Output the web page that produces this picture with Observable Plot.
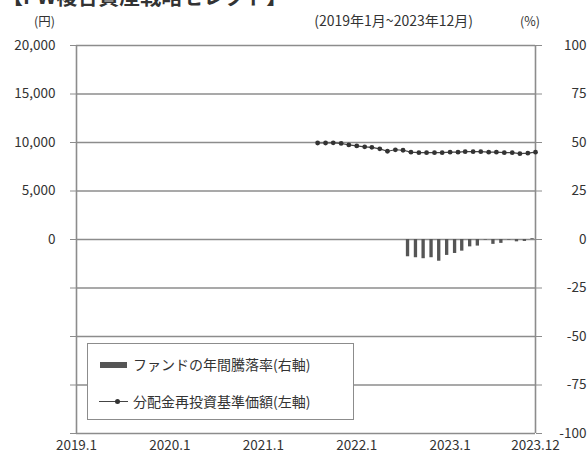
<!DOCTYPE html>
<html><head><meta charset="utf-8">
<script src="https://cdn.jsdelivr.net/npm/d3@7"></script>
<script src="https://cdn.jsdelivr.net/npm/@observablehq/plot@0.6"></script>
<style>
body{margin:0;background:#fff;}
#wrap{position:relative;width:587px;height:462px;overflow:hidden;font-family:"Noto Sans CJK JP",sans-serif;color:#333;}
#wrap svg{position:absolute;left:0;top:0;}
.t{position:absolute;white-space:nowrap;}
</style></head><body>
<div id="wrap"></div>
<script>
// Data
const navMonths = ["2021-08","2021-09","2021-10","2021-11","2021-12","2022-01","2022-02","2022-03","2022-04","2022-05","2022-06","2022-07","2022-08","2022-09","2022-10","2022-11","2022-12","2023-01","2023-02","2023-03","2023-04","2023-05","2023-06","2023-07","2023-08","2023-09","2023-10","2023-11","2023-12"];
const navValues = [9950,9950,9970,9900,9750,9650,9550,9500,9350,9100,9250,9200,9000,8950,8950,8950,8950,9000,9000,9050,9050,9050,9000,9000,8950,8950,8850,8900,9000];
const retMonths = ["2022-08","2022-09","2022-10","2022-11","2022-12","2023-01","2023-02","2023-03","2023-04","2023-05","2023-06","2023-07","2023-08","2023-09","2023-10","2023-11","2023-12"];
const retValues = [-8.9,-9.4,-9.9,-9.4,-11.2,-8.2,-7.2,-6.0,-3.8,-3.4,-0.3,-2.5,-2.0,-0.3,-1.2,-1.0,0.4];
const yTicks = [-100,-75,-50,-25,0,25,50,75,100];
const xTickDates = ["2019-01","2020-01","2021-01","2022-01","2023-01","2023-12"];
const xTickLabels = ["2019.1","2020.1","2021.1","2022.1","2023.1","2023.12"];

const parse = d3.utcParse("%Y-%m");
const nav = navMonths.map((m,i)=>({date:parse(m), v:navValues[i]/200}));
const ret = retMonths.map((m,i)=>({date:parse(m), v:retValues[i]}));
const xTicks = xTickDates.map(parse);
const grid = "#8c8c8c";

const chart = Plot.plot({
  width:587, height:462,
  marginLeft:76, marginRight:52, marginTop:45, marginBottom:29,
  style:{fontFamily:"'Noto Sans CJK JP',sans-serif", fontSize:"13.5px", color:"#333", background:"transparent"},
  x:{type:"utc", domain:[parse("2019-01"), parse("2023-12")], label:null},
  y:{domain:[-100,100], label:null},
  marks:[
    Plot.ruleY(yTicks, {stroke:grid, strokeWidth:1.6}),
    Plot.ruleX([parse("2019-01"), parse("2023-12")], {stroke:grid, strokeWidth:1.6}),
    Plot.rectY(ret, {x1:d=>d3.utcDay.offset(d.date,-18), x2:d=>d3.utcDay.offset(d.date,-5), y1:0, y2:"v", fill:"#555"}),
    Plot.line(nav, {x:"date", y:"v", stroke:"#444", strokeWidth:1.2}),
    Plot.dot(nav, {x:"date", y:"v", r:2.4, fill:"#333", stroke:"none"}),
    Plot.axisY({anchor:"left", label:null, ticks:yTicks, tickSize:6, tickPadding:15, stroke:grid, fill:"#333",
      tickFormat:d=> d>=0 ? d3.format(",")(d*200) : ""}),
    Plot.axisY({anchor:"right", label:null, ticks:yTicks, tickSize:6, tickPadding:45, textAnchor:"end", stroke:grid, fill:"#333",
      tickFormat:d=>String(d)}),
    Plot.axisX({label:null, ticks:xTicks, tickSize:0, tickPadding:7, fill:"#333",
      tickFormat:(d,i)=>xTickLabels[i]})
  ]
});
const wrap = document.getElementById("wrap");
wrap.appendChild(chart);

function addText(txt, css){const d=document.createElement("div");d.className="t";d.textContent=txt;Object.assign(d.style,css);wrap.appendChild(d);return d;}
addText("【PW複合資産戦略セレクト】",{left:"2px",top:"-20px",fontSize:"21px",fontWeight:"bold",color:"#333"});
addText("(円)",{left:"34px",top:"11px",fontSize:"12.5px"});
addText("(2019年1月~2023年12月)",{right:"114px",top:"10px",fontSize:"14px"});
addText("(%)",{left:"520px",top:"11px",fontSize:"12.5px"});

// Legend
const lg = document.createElement("div");
Object.assign(lg.style,{position:"absolute",left:"87px",top:"343px",width:"267px",height:"77px",background:"#fff",border:"1px solid "+grid,boxSizing:"border-box"});
wrap.appendChild(lg);
const sw = document.createElement("div");
Object.assign(sw.style,{position:"absolute",left:"12px",top:"18px",width:"27px",height:"6px",background:"#555"});
lg.appendChild(sw);
const ln = document.createElement("div");
Object.assign(ln.style,{position:"absolute",left:"11px",top:"57px",width:"29px",height:"1px",background:"#444"});
lg.appendChild(ln);
const dt = document.createElement("div");
Object.assign(dt.style,{position:"absolute",left:"27px",top:"55px",width:"5px",height:"5px",borderRadius:"50%",background:"#333"});
lg.appendChild(dt);
const l1 = document.createElement("div"); l1.className="t"; l1.textContent="ファンドの年間騰落率(右軸)";
Object.assign(l1.style,{left:"45px",top:"10px",fontSize:"14px"}); lg.appendChild(l1);
const l2 = document.createElement("div"); l2.className="t"; l2.textContent="分配金再投資基準価額(左軸)";
Object.assign(l2.style,{left:"45px",top:"47px",fontSize:"14px"}); lg.appendChild(l2);
</script></body></html>
